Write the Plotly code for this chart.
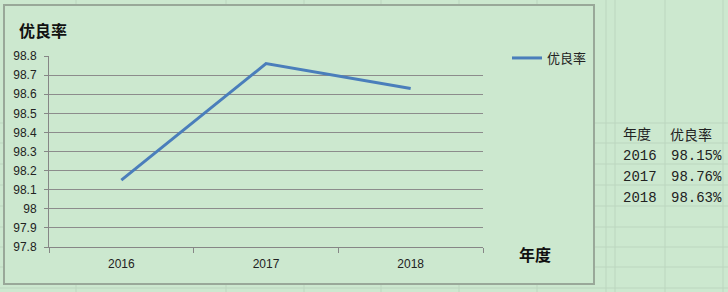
import plotly.graph_objects as go

# ---- data ----
years = ["2016", "2017", "2018"]
rates = [98.15, 98.76, 98.63]
series_name = "优良率"
chart_title = "优良率"
x_title = "年度"
table_header = ["年度", "优良率"]

W, H = 728, 292
BG = "#CCE8CF"
GRID_SHEET = "#BCD6BF"

def px(x):
    return x / W

def py(y):
    return 1 - y / H

fig = go.Figure()
fig.add_trace(go.Scatter(
    x=years, y=rates, mode="lines", name=series_name,
    line=dict(color="#4A7EBB", width=3),
))

shapes = []
# spreadsheet grid (behind chart)
for cx in [76, 226, 304, 381, 459, 537, 606, 615, 665, 723]:
    shapes.append(dict(type="line", xref="paper", yref="paper", x0=px(cx), x1=px(cx), y0=0, y1=1,
                       line=dict(color=GRID_SHEET, width=1), layer="below"))
for ry in [123, 143, 164, 185, 206, 227, 247, 267, 288]:
    shapes.append(dict(type="line", xref="paper", yref="paper", x0=0, x1=1, y0=py(ry), y1=py(ry),
                       line=dict(color=GRID_SHEET, width=1), layer="below"))
# chart area
shapes.append(dict(type="rect", xref="paper", yref="paper", x0=px(4), x1=px(594), y0=py(284), y1=py(5),
                   fillcolor=BG, line=dict(color="#99A899", width=2), layer="below"))

annotations = [
    dict(text=f"<b>{chart_title}</b>", xref="paper", yref="paper", x=px(17), y=py(30),
         xanchor="left", yanchor="middle", showarrow=False,
         font=dict(family="Noto Sans CJK SC", size=16, color="#111")),
    dict(text=f"<b>{x_title}</b>", xref="paper", yref="paper", x=px(517), y=py(254),
         xanchor="left", yanchor="middle", showarrow=False,
         font=dict(family="Noto Sans CJK SC", size=16, color="#111")),
]
# table on the sheet
tfont = dict(family="Liberation Mono, Noto Sans CJK SC", size=14, color="#222")
row_y = [135, 156, 177, 198]
annotations.append(dict(text=table_header[0], xref="paper", yref="paper", x=px(621), y=py(row_y[0]),
                        xanchor="left", yanchor="middle", showarrow=False, font=tfont))
annotations.append(dict(text=table_header[1], xref="paper", yref="paper", x=px(668), y=py(row_y[0]),
                        xanchor="left", yanchor="middle", showarrow=False, font=tfont))
for i, (yr, r) in enumerate(zip(years, rates)):
    annotations.append(dict(text=yr, xref="paper", yref="paper", x=px(621), y=py(row_y[i + 1]),
                            xanchor="left", yanchor="middle", showarrow=False, font=tfont))
    annotations.append(dict(text=f"{r:.2f}%", xref="paper", yref="paper", x=px(669), y=py(row_y[i + 1]),
                            xanchor="left", yanchor="middle", showarrow=False, font=tfont))

fig.update_layout(
    width=W, height=H, autosize=False,
    margin=dict(l=0, r=0, t=0, b=0, pad=0, autoexpand=False),
    paper_bgcolor=BG,
    plot_bgcolor="rgba(0,0,0,0)",
    shapes=shapes,
    annotations=annotations,
    showlegend=True,
    legend=dict(x=px(507), y=py(43), xanchor="left", yanchor="top",
                bgcolor="rgba(0,0,0,0)", font=dict(family="Noto Sans CJK SC", size=13, color="#222"),
                itemwidth=30),
    xaxis=dict(
        domain=[px(49), px(483)], type="category", range=[-0.5, 2.5], automargin=False,
        showgrid=False, showline=True, linecolor="#868686", linewidth=1,
        ticks="outside", tickson="boundaries", ticklen=5, tickcolor="#868686",
        tickfont=dict(family="Liberation Sans", size=12, color="#222"),
        zeroline=False, ticklabelstandoff=6,
    ),
    yaxis=dict(
        domain=[py(247), py(56)], range=[97.8, 98.8], dtick=0.1, automargin=False,
        showgrid=True, gridcolor="#8C8C8C", gridwidth=1,
        showline=True, linecolor="#868686", linewidth=1,
        ticks="outside", ticklen=4, tickcolor="#868686",
        tickfont=dict(family="Liberation Sans", size=12, color="#222"),
        tickformat="~r", zeroline=False, ticklabelstandoff=5,
    ),
)

fig.write_html("out.html")
